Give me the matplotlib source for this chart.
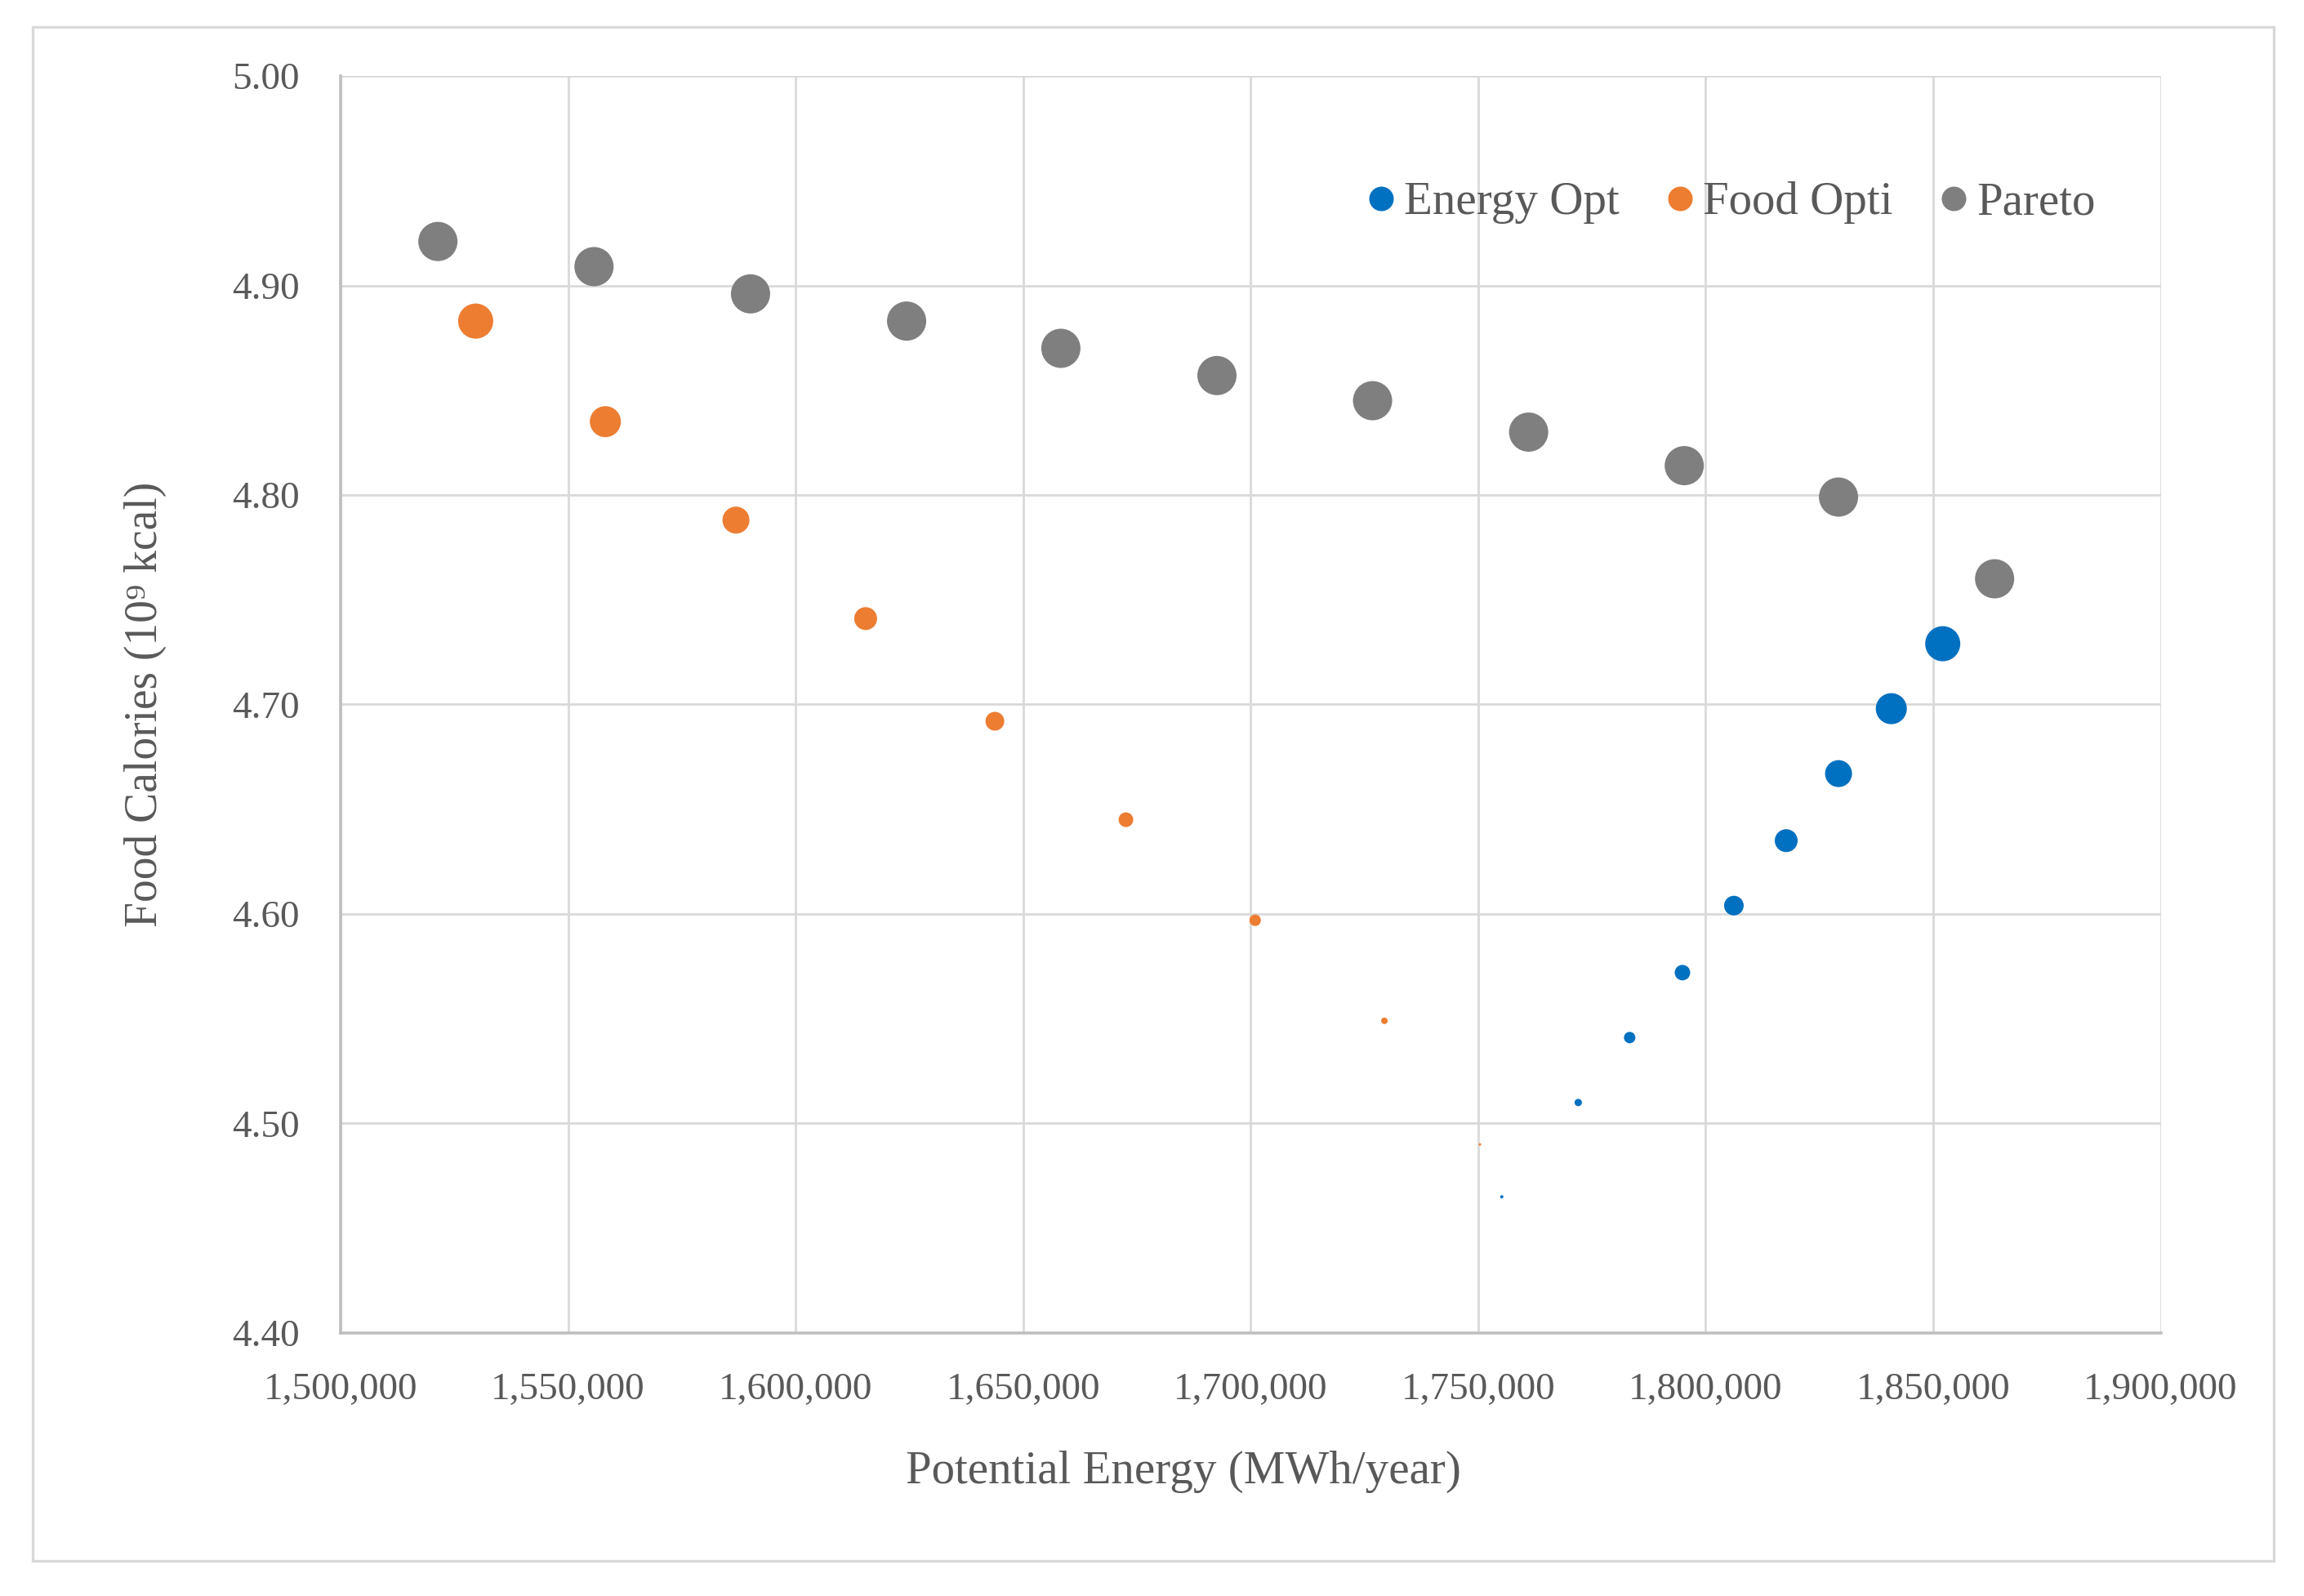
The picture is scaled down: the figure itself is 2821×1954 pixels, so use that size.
import numpy as np
import matplotlib
matplotlib.use("Agg")
import matplotlib.pyplot as plt
from matplotlib.ticker import FuncFormatter, MultipleLocator
from matplotlib.patches import Rectangle
from matplotlib.lines import Line2D

plt.rcParams['font.family'] = ['Liberation Serif', 'DejaVu Serif']

# bubble data: x = potential energy (MWh/year), y = food calories (1e9 kcal), d = bubble diameter (px)
energy_x = [1755200, 1772000, 1783300, 1794900, 1806200, 1817700, 1829200, 1840800, 1852100]
energy_y = [4.465, 4.510, 4.541, 4.572, 4.604, 4.635, 4.667, 4.698, 4.729]
energy_d = [4, 9, 14, 19, 24, 28, 33, 38, 43]

food_x = [1529700, 1558200, 1586900, 1615400, 1643800, 1672600, 1701000, 1729400, 1750400]
food_y = [4.883, 4.835, 4.788, 4.741, 4.692, 4.645, 4.597, 4.549, 4.490]
food_d = [43, 38, 33, 28, 23, 18, 14, 8, 3]

pareto_x = [1521400, 1555700, 1590100, 1624400, 1658300, 1692600, 1726800, 1761100, 1795300, 1829200, 1863500]
pareto_y = [4.921, 4.909, 4.896, 4.883, 4.870, 4.857, 4.845, 4.830, 4.814, 4.799, 4.760]
pareto_d = [48] * len(pareto_x)

series = [("Energy Opt", energy_x, energy_y, energy_d, "#0070C0"),
          ("Food Opti", food_x, food_y, food_d, "#ED7D31"),
          ("Pareto", pareto_x, pareto_y, pareto_d, "#7F7F7F")]

dpi = 200
fig = plt.figure(figsize=(2821/dpi, 1954/dpi), dpi=dpi)
ax = fig.add_axes([0.1478, 0.1648, 0.9378-0.1478, 0.9524-0.1648])

def px2s(d):
    return (np.array(d)*72.0/dpi)**2

handles = []
for name, xs, ys, ds, col in series:
    ax.scatter(xs, ys, s=px2s(ds), color=col, edgecolors='none', zorder=3)
    handles.append(Line2D([], [], linestyle='none', marker='o', markersize=30*72.0/dpi,
                          markerfacecolor=col, markeredgecolor='none', label=name))

ax.set_xlim(1500000, 1900000)
ax.set_ylim(4.40, 5.00)
ax.xaxis.set_major_locator(MultipleLocator(50000))
ax.yaxis.set_major_locator(MultipleLocator(0.1))
ax.xaxis.set_major_formatter(FuncFormatter(lambda v, p: "{:,.0f}".format(v)))
ax.yaxis.set_major_formatter(FuncFormatter(lambda v, p: "{:.2f}".format(v)))
ax.grid(True, color="#d9d9d9", linewidth=1.0, zorder=0)
ax.set_axisbelow(True)
for side in ["top", "right"]:
    ax.spines[side].set_visible(False)
for side in ["left", "bottom"]:
    ax.spines[side].set_color("#bfbfbf")
    ax.spines[side].set_linewidth(1.3)
ax.tick_params(length=0, labelsize=17, colors="#595959", pad=18)
ax.tick_params(axis='x', pad=17.5)

ax.set_xlabel("Potential Energy (MWh/year)", fontsize=20.5, color="#595959", labelpad=19, x=0.463)
ax.set_ylabel("Food Calories (10⁹ kcal)", fontsize=20, color="#595959", labelpad=29)

leg = ax.legend(handles=handles, loc="center", bbox_to_anchor=(0.764, 0.899), ncol=3, frameon=False,
                fontsize=20.5, handlelength=0.6, handletextpad=0.2, columnspacing=1.0)
for t in leg.get_texts():
    t.set_color("#595959")

fig.patches.append(Rectangle((40/2821, 1-1911/1954), (2784-40)/2821, (1911-33)/1954,
                             transform=fig.transFigure, fill=False, edgecolor="#d9d9d9", linewidth=1.2))

fig.savefig("out.png", dpi=dpi)
